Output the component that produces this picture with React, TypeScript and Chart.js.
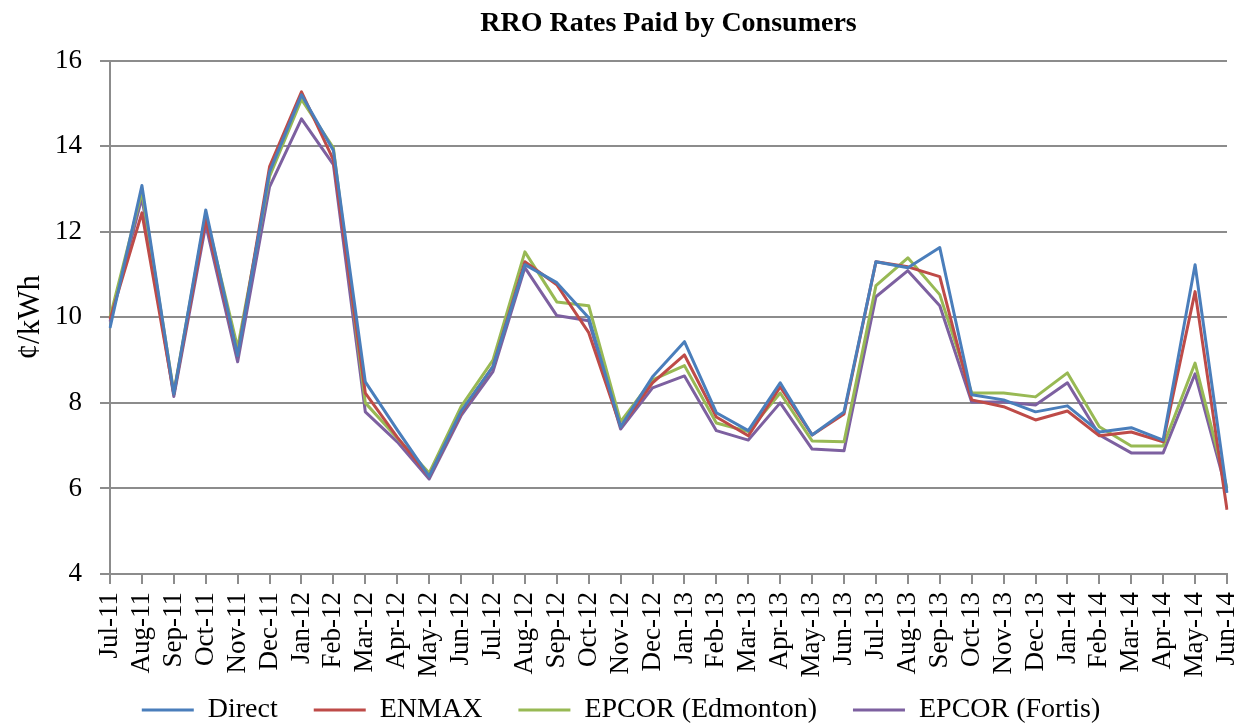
import React, { useEffect, useRef } from "react";
import { Chart, registerables } from "chart.js";

Chart.register(...registerables);

const months = [
  "Jul-11", "Aug-11", "Sep-11", "Oct-11", "Nov-11", "Dec-11", "Jan-12", "Feb-12", "Mar-12",
  "Apr-12", "May-12", "Jun-12", "Jul-12", "Aug-12", "Sep-12", "Oct-12", "Nov-12", "Dec-12",
  "Jan-13", "Feb-13", "Mar-13", "Apr-13", "May-13", "Jun-13", "Jul-13", "Aug-13", "Sep-13",
  "Oct-13", "Nov-13", "Dec-13", "Jan-14", "Feb-14", "Mar-14", "Apr-14", "May-14", "Jun-14",
];

const direct = [9.75, 13.08, 8.2, 12.51, 9.1, 13.4, 15.2, 13.9, 8.49, 7.37, 6.28, 7.8, 8.85, 11.23, 10.81, 9.99, 7.44, 8.61, 9.43, 7.77, 7.35, 8.47, 7.25, 7.79, 11.3, 11.16, 11.63, 8.19, 8.07, 7.79, 7.93, 7.32, 7.42, 7.13, 11.23, 5.9];
const enmax = [9.95, 12.44, 8.2, 12.3, 9.1, 13.52, 15.27, 13.68, 8.23, 7.2, 6.28, 7.77, 8.85, 11.3, 10.76, 9.64, 7.44, 8.47, 9.12, 7.67, 7.23, 8.37, 7.25, 7.74, 11.3, 11.18, 10.95, 8.07, 7.91, 7.6, 7.81, 7.23, 7.32, 7.09, 10.6, 5.5];
const epcorEdmonton = [10.0, 12.94, 8.25, 12.4, 9.29, 13.29, 15.09, 13.96, 8.0, 7.18, 6.36, 7.91, 9.0, 11.53, 10.36, 10.27, 7.56, 8.54, 8.87, 7.53, 7.33, 8.23, 7.11, 7.09, 10.74, 11.39, 10.53, 8.23, 8.23, 8.14, 8.7, 7.44, 6.99, 6.99, 8.93, 6.0];
const epcorFortis = [9.9, 12.8, 8.15, 12.16, 8.96, 13.05, 14.64, 13.57, 7.79, 7.09, 6.22, 7.7, 8.73, 11.16, 10.04, 9.92, 7.39, 8.35, 8.63, 7.35, 7.13, 8.0, 6.92, 6.88, 10.48, 11.09, 10.27, 8.02, 8.02, 7.95, 8.47, 7.25, 6.83, 6.83, 8.68, 5.9];

const seriesNames = ["Direct", "ENMAX", "EPCOR (Edmonton)", "EPCOR (Fortis)"];
const seriesColors = ["#4A7EBB", "#BE4B48", "#98B954", "#7D60A0"];

const FONT = "'Liberation Serif', serif";
const GRID = "#8c8c8c";

// Centre the title over the plot area and let the rotated x labels use the space below the axis box.
const layoutTweaks = {
  id: "layoutTweaks",
  afterLayout(chart: any) {
    const area = chart.chartArea;
    if (chart.titleBlock) {
      chart.titleBlock.left = area.left;
      chart.titleBlock.right = area.right;
    }
    const x = chart.scales.x;
    if (x) x.bottom = chart.height;
  },
};

export default function App() {
  const ref = useRef<HTMLCanvasElement | null>(null);

  useEffect(() => {
    if (!ref.current) return;
    const values = [direct, enmax, epcorEdmonton, epcorFortis];
    const chart = new Chart(ref.current, {
      type: "line",
      plugins: [layoutTweaks],
      data: {
        labels: months,
        datasets: values.map((d, i) => ({
          label: seriesNames[i],
          data: d,
          borderColor: seriesColors[i],
          backgroundColor: seriesColors[i],
          borderWidth: 3,
          pointRadius: 0,
          tension: 0,
          borderJoinStyle: "round" as const,
        })),
      },
      options: {
        animation: false,
        responsive: false,
        maintainAspectRatio: false,
        layout: { padding: { left: 0, right: 0, top: 0, bottom: 0 } },
        plugins: {
          title: {
            display: true,
            text: "RRO Rates Paid by Consumers",
            color: "#000",
            font: { family: FONT, size: 28, weight: "bold" },
            padding: { top: 7, bottom: 20 },
          },
          legend: {
            display: true,
            position: "bottom",
            labels: {
              color: "#000",
              font: { family: FONT, size: 28 },
              usePointStyle: true,
              pointStyle: "line",
              pointStyleWidth: 52,
              boxHeight: 28,
              padding: 36,
            },
          },
          tooltip: { enabled: false },
        },
        scales: {
          x: {
            offset: false,
            grid: {
              drawOnChartArea: false,
              drawTicks: true,
              tickLength: 10,
              color: GRID,
              lineWidth: 2,
            },
            border: { display: true, color: GRID, width: 2 },
            ticks: {
              color: "#000",
              font: { family: FONT, size: 27 },
              maxRotation: 90,
              minRotation: 90,
              autoSkip: false,
              padding: 8,
            },
            afterFit: (s: any) => {
              s.height = 86;
              s.paddingRight = 15;
              s.paddingLeft = 0;
            },
          },
          y: {
            min: 4,
            max: 16,
            ticks: {
              stepSize: 2,
              color: "#000",
              font: { family: FONT, size: 27 },
              padding: 18,
            },
            grid: {
              color: GRID,
              lineWidth: 2,
              tickLength: 10,
            },
            border: { display: true, color: GRID, width: 2 },
            title: {
              display: true,
              text: "¢/kWh",
              color: "#000",
              font: { family: FONT, size: 31 },
              padding: { top: 12, bottom: 0 },
            },
            afterFit: (s: any) => {
              s.width = 110;
            },
          },
        },
      },
    });
    return () => chart.destroy();
  }, []);

  return (
    <div style={{ position: "absolute", left: 0, top: 0, width: 1242, height: 723, overflow: "hidden", background: "#fff" }}>
      <canvas ref={ref} width={1242} height={734} style={{ width: 1242, height: 734, display: "block" }} />
    </div>
  );
}
